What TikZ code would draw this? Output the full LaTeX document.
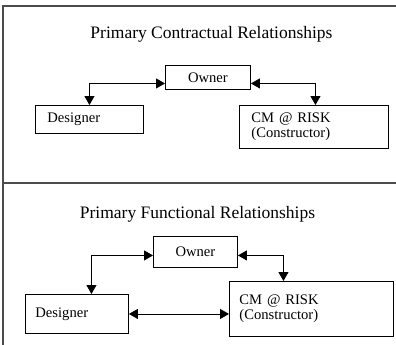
\documentclass[tikz,border=0pt]{standalone}
\usepackage{fontspec}
\setmainfont{Liberation Serif}
\usetikzlibrary{arrows.meta}
\begin{document}
\begin{tikzpicture}[x=1pt,y=-1pt,
  frame/.style={draw=black!70, line width=1.3pt},
  box/.style={draw=black, line width=0.9pt, rectangle, anchor=north west, inner ysep=0pt, font=\fontsize{14.6}{15}\selectfont},
  title/.style={font=\fontsize{17.5}{19}\selectfont},
  biarr/.style={line width=0.9pt, {Triangle[length=9pt,width=10pt]}-{Triangle[length=9pt,width=10pt]}}
]
\useasboundingbox (0,0) rectangle (396,345);
% frame
\coordinate (ftl) at (3,6);
\coordinate (ftr) at (396,6);
\coordinate (fbl) at (3,345);
\coordinate (fml) at (3,183);
\coordinate (fmr) at (396,183);
\draw[frame] (ftr) -- (ftl) -- (fbl);
\draw[frame] (fml) -- (fmr);

% top section
\node[title] (t1) at (211.5,34) {Primary Contractual Relationships};
\node[box, minimum width=85pt, minimum height=24pt, align=center] (o1) at (165,65) {Owner};
\node[box, text width=84pt, inner xsep=12pt, minimum height=28pt, align=left] (d1) at (35,105) {Designer};
\node[box, text width=125pt, inner xsep=12pt, minimum height=43pt, align=left] (c1) at (239,105) {CM @ RISK\\(Constructor)};
\draw[biarr] ([yshift=-6pt]o1.west) -| (d1.north);
\draw[biarr] ([yshift=-6pt]o1.east) -| ([xshift=1.5pt]c1.north);

% bottom section
\node[title] (t2) at (197.5,214) {Primary Functional Relationships};
\node[box, minimum width=84pt, minimum height=31pt, align=center] (o2) at (153,236) {Owner};
\node[box, text width=83pt, inner xsep=10pt, minimum height=39pt, align=left] (d2) at (25,294) {Designer};
\node[box, text width=144pt, inner xsep=10pt, minimum height=55pt, align=left] (c2) at (229,281) {CM @ RISK\\(Constructor)};
\draw[biarr] ([yshift=-3.5pt]o2.west) -| ([xshift=14.5pt]d2.north);
\draw[biarr] ([yshift=-3.5pt]o2.east) -| ([xshift=-28pt]c2.north);
\draw[biarr] (d2.east) -- (d2.east -| c2.west);
\end{tikzpicture}
\end{document}
